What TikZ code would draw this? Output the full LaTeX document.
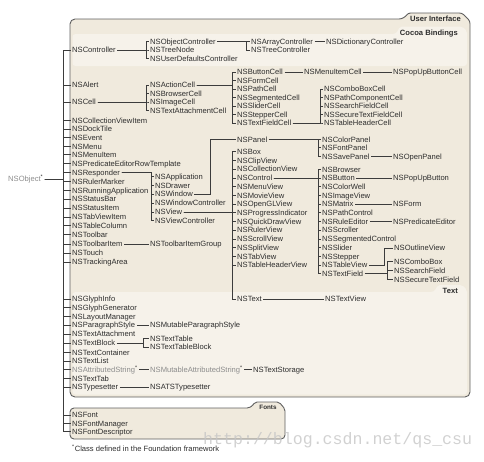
\documentclass[tikz,border=0pt]{standalone}
\usepackage{fontspec}
\setmainfont{Liberation Sans}
\newfontfamily\wmfont{Liberation Mono}
\usetikzlibrary{calc}
\definecolor{bg}{RGB}{240,234,221}
\definecolor{bgl}{RGB}{246,242,234}
\definecolor{frm}{RGB}{95,95,95}
\definecolor{ink}{RGB}{45,45,45}
\definecolor{lnk}{RGB}{60,60,60}
\definecolor{fgray}{RGB}{140,140,140}
\tikzset{
  cls/.style={font=\fontsize{7.6}{9}\selectfont, text=ink, inner xsep=1.5pt, inner ysep=0.5pt,
              anchor=west, text height=5.5pt, text depth=0pt},
  gcls/.style={cls, text=fgray},
  lbl/.style={font=\bfseries\fontsize{7.6}{9}\selectfont, text=ink, inner sep=0pt,
              text height=5.5pt, text depth=0pt},
  conn/.style={draw=lnk, line width=0.7pt},
  frame/.style={draw=frm, line width=0.9pt, fill=bg},
}
\newcommand\nsc[3]{\node[cls] (#1) at ({#2-1.5},#3) {#1};}
\newcommand\grp[3]{\foreach \c in {#3} {\draw[conn] (#1.east) -- (#1.east -| #2) |- (\c.west);}}
\begin{document}
\begin{tikzpicture}[x=1pt,y=-1pt]
\useasboundingbox (0,0) rectangle (484,461);
% ---- frames
\path[frame, rounded corners=5pt] (70,397) -- (70,19) -- (404,19) [rounded corners=2.5pt] -- (408,13) -- (462,13) -- (470,21) [rounded corners=5pt] -- (470,397) -- cycle;
\path[fill=bgl, rounded corners=3pt] (72.5,66) -- (72.5,34) -- (396,34) [rounded corners=2pt] -- (400,26.5) -- (462,26.5) -- (467,31) [rounded corners=3pt] -- (467,66) -- cycle;
\path[fill=bgl, rounded corners=3pt] (72.5,394.5) -- (72.5,292) -- (434,292) [rounded corners=2pt] -- (438,285) -- (462,285) -- (467,290) [rounded corners=3pt] -- (467,394.5) -- cycle;
\path[frame, rounded corners=4pt] (70,439) -- (70,408) -- (251,408) [rounded corners=2pt] -- (255,402) -- (279,402) -- (285,409) [rounded corners=4pt] -- (285,439) -- cycle;
\node[lbl, anchor=east] (UI) at (461,19) {User Interface};
\node[lbl, anchor=east] (CB) at (458,32.7) {Cocoa Bindings};
\node[lbl, anchor=east] (TX) at (458,290.5) {Text};
\node[lbl, font=\bfseries\fontsize{6.3}{7}\selectfont] (FT) at (268,406.5) {Fonts};
% ---- root
\node[gcls] (NSObject) at (6.5,179) {NSObject\textcolor{ink}{\textsuperscript{*}}};
% ---- main column
\nsc{NSController}{72}{50}
\nsc{NSAlert}{72}{85}
\nsc{NSCell}{72}{102}
\nsc{NSCollectionViewItem}{72}{120.7}
\nsc{NSDockTile}{72}{129.2}
\nsc{NSEvent}{72}{137.8}
\nsc{NSMenu}{72}{146.3}
\nsc{NSMenuItem}{72}{154.8}
\nsc{NSPredicateEditorRowTemplate}{72}{163.4}
\nsc{NSResponder}{72}{172.3}
\nsc{NSRulerMarker}{72}{181.3}
\nsc{NSRunningApplication}{72}{190.3}
\nsc{NSStatusBar}{72}{199.2}
\nsc{NSStatusItem}{72}{208.2}
\nsc{NSTabViewItem}{72}{217}
\nsc{NSTableColumn}{72}{225.8}
\nsc{NSToolbar}{72}{234.6}
\nsc{NSToolbarItem}{72}{244}
\nsc{NSTouch}{72}{253}
\nsc{NSTrackingArea}{72}{262}
\nsc{NSGlyphInfo}{72}{299}
\nsc{NSGlyphGenerator}{72}{307.7}
\nsc{NSLayoutManager}{72}{316.5}
\nsc{NSParagraphStyle}{72}{325.2}
\nsc{NSTextAttachment}{72}{334.2}
\nsc{NSTextBlock}{72}{343.2}
\nsc{NSTextContainer}{72}{352.4}
\nsc{NSTextList}{72}{361}
\node[gcls] (NSAttributedString) at (70.5,369.5) {NSAttributedString\textcolor{ink}{\textsuperscript{*}}};
\nsc{NSTextTab}{72}{378.3}
\nsc{NSTypesetter}{72}{387.2}
\nsc{NSFont}{72}{415}
\nsc{NSFontManager}{72}{423.3}
\nsc{NSFontDescriptor}{72}{431.7}
% ---- bindings
\nsc{NSObjectController}{150}{41.7}
\nsc{NSTreeNode}{150}{50}
\nsc{NSUserDefaultsController}{150}{58.8}
\nsc{NSArrayController}{251}{41.7}
\nsc{NSTreeController}{251}{50}
\nsc{NSDictionaryController}{326}{41.7}
% ---- cells
\nsc{NSActionCell}{150}{85}
\nsc{NSBrowserCell}{150}{93.5}
\nsc{NSImageCell}{150}{102}
\nsc{NSTextAttachmentCell}{150}{110.5}
\nsc{NSButtonCell}{237}{72}
\nsc{NSFormCell}{237}{80.5}
\nsc{NSPathCell}{237}{89}
\nsc{NSSegmentedCell}{237}{97.5}
\nsc{NSSliderCell}{237}{106}
\nsc{NSStepperCell}{237}{114.5}
\nsc{NSTextFieldCell}{237}{123}
\nsc{NSMenuItemCell}{304}{72}
\nsc{NSPopUpButtonCell}{393}{72}
\nsc{NSComboBoxCell}{324}{89}
\nsc{NSPathComponentCell}{324}{97.5}
\nsc{NSSearchFieldCell}{324}{106}
\nsc{NSSecureTextFieldCell}{324}{114.5}
\nsc{NSTableHeaderCell}{324}{123}
% ---- responders
\nsc{NSApplication}{155}{176.7}
\nsc{NSDrawer}{155}{185.3}
\nsc{NSWindow}{155}{194}
\nsc{NSWindowController}{155}{203}
\nsc{NSView}{155}{212}
\nsc{NSViewController}{155}{220.7}
\nsc{NSPanel}{237}{139.3}
\nsc{NSColorPanel}{322}{139.3}
\nsc{NSFontPanel}{322}{147.8}
\nsc{NSSavePanel}{322}{156.4}
\nsc{NSOpenPanel}{393}{156.4}
% ---- views
\nsc{NSBox}{237}{151.7}
\nsc{NSClipView}{237}{160.4}
\nsc{NSCollectionView}{237}{169.1}
\nsc{NSControl}{237}{177.9}
\nsc{NSMenuView}{237}{186.6}
\nsc{NSMovieView}{237}{195.3}
\nsc{NSOpenGLView}{237}{204}
\nsc{NSProgressIndicator}{237}{212.7}
\nsc{NSQuickDrawView}{237}{221.5}
\nsc{NSRulerView}{237}{230.2}
\nsc{NSScrollView}{237}{238.9}
\nsc{NSSplitView}{237}{247.6}
\nsc{NSTabView}{237}{256.3}
\nsc{NSTableHeaderView}{237}{265}
\nsc{NSText}{237}{299}
\nsc{NSTextView}{325}{299}
% ---- controls
\nsc{NSBrowser}{322}{169.3}
\nsc{NSButton}{322}{177.9}
\nsc{NSColorWell}{322}{186.6}
\nsc{NSImageView}{322}{195.3}
\nsc{NSMatrix}{322}{204}
\nsc{NSPathControl}{322}{212.7}
\nsc{NSRuleEditor}{322}{221.5}
\nsc{NSScroller}{322}{230.2}
\nsc{NSSegmentedControl}{322}{238.9}
\nsc{NSSlider}{322}{247.6}
\nsc{NSStepper}{322}{256.3}
\nsc{NSTableView}{322}{265}
\nsc{NSTextField}{322}{273.7}
\nsc{NSPopUpButton}{393}{177.9}
\nsc{NSForm}{393}{204}
\nsc{NSPredicateEditor}{393}{221.5}
\nsc{NSOutlineView}{394}{248}
\nsc{NSComboBox}{394}{261.7}
\nsc{NSSearchField}{394}{270.5}
\nsc{NSSecureTextField}{394}{279.3}
% ---- misc
\nsc{NSToolbarItemGroup}{150}{244}
\nsc{NSMutableParagraphStyle}{150}{325.2}
\nsc{NSTextTable}{150}{338.5}
\nsc{NSTextTableBlock}{150}{347}
\node[gcls] (NSMutableAttributedString) at (148.5,369.5) {NSMutableAttributedString\textcolor{ink}{\textsuperscript{*}}};
\nsc{NSTextStorage}{253}{369.5}
\nsc{NSATSTypesetter}{150}{387.2}
% ---- bracket coordinates
\coordinate (bus) at (63.5,0);
\coordinate (bCtl) at (146.7,0);
\coordinate (bObjC) at (246.5,0);
\coordinate (bCell) at (146.7,0);
\coordinate (bAct) at (232.5,0);
\coordinate (bTFC) at (320.5,0);
\coordinate (bResp) at (151.7,0);
\coordinate (eWin) at (210,0);
\coordinate (bPanel) at (318,0);
\coordinate (bView) at (232.5,0);
\coordinate (bCtrl) at (318,0);
\coordinate (eTV) at (384.5,0);
\coordinate (bTF) at (387.5,0);
\coordinate (bTB) at (143,0);
% ---- connectors
\grp{NSObject}{bus}{NSController,NSAlert,NSCell,NSCollectionViewItem,NSDockTile,NSEvent,NSMenu,NSMenuItem,NSPredicateEditorRowTemplate,NSResponder,NSRulerMarker,NSRunningApplication,NSStatusBar,NSStatusItem,NSTabViewItem,NSTableColumn,NSToolbar,NSToolbarItem,NSTouch,NSTrackingArea,NSGlyphInfo,NSGlyphGenerator,NSLayoutManager,NSParagraphStyle,NSTextAttachment,NSTextBlock,NSTextContainer,NSTextList,NSAttributedString,NSTextTab,NSTypesetter,NSFont,NSFontManager,NSFontDescriptor}
\grp{NSController}{bCtl}{NSObjectController,NSTreeNode,NSUserDefaultsController}
\grp{NSObjectController}{bObjC}{NSArrayController,NSTreeController}
\draw[conn] (NSArrayController.east) -- (NSDictionaryController.west);
\grp{NSCell}{bCell}{NSActionCell,NSBrowserCell,NSImageCell,NSTextAttachmentCell}
\grp{NSActionCell}{bAct}{NSButtonCell,NSFormCell,NSPathCell,NSSegmentedCell,NSSliderCell,NSStepperCell,NSTextFieldCell}
\draw[conn] (NSButtonCell.east) -- (NSMenuItemCell.west);
\draw[conn] (NSMenuItemCell.east) -- (NSPopUpButtonCell.west);
\grp{NSTextFieldCell}{bTFC}{NSComboBoxCell,NSPathComponentCell,NSSearchFieldCell,NSSecureTextFieldCell,NSTableHeaderCell}
\grp{NSResponder}{bResp}{NSApplication,NSDrawer,NSWindow,NSWindowController,NSView,NSViewController}
\draw[conn] (NSWindow.east) -- (NSWindow.east -| eWin) |- (NSPanel.west);
\grp{NSPanel}{bPanel}{NSColorPanel,NSFontPanel,NSSavePanel}
\draw[conn] (NSSavePanel.east) -- (NSOpenPanel.west);
\grp{NSView}{bView}{NSBox,NSClipView,NSCollectionView,NSControl,NSMenuView,NSMovieView,NSOpenGLView,NSProgressIndicator,NSQuickDrawView,NSRulerView,NSScrollView,NSSplitView,NSTabView,NSTableHeaderView,NSText}
\draw[conn] (NSText.east) -- (NSTextView.west);
\grp{NSControl}{bCtrl}{NSBrowser,NSButton,NSColorWell,NSImageView,NSMatrix,NSPathControl,NSRuleEditor,NSScroller,NSSegmentedControl,NSSlider,NSStepper,NSTableView,NSTextField}
\draw[conn] (NSButton.east) -- (NSPopUpButton.west);
\draw[conn] (NSMatrix.east) -- (NSForm.west);
\draw[conn] (NSRuleEditor.east) -- (NSPredicateEditor.west);
\draw[conn] (NSTableView.east) -- (NSTableView.east -| eTV) |- (NSOutlineView.west);
\grp{NSTextField}{bTF}{NSComboBox,NSSearchField,NSSecureTextField}
\draw[conn] (NSToolbarItem.east) -- (NSToolbarItemGroup.west);
\draw[conn] (NSParagraphStyle.east) -- (NSMutableParagraphStyle.west);
\grp{NSTextBlock}{bTB}{NSTextTable,NSTextTableBlock}
\draw[conn] (NSAttributedString.east) -- (NSMutableAttributedString.west);
\draw[conn] (NSMutableAttributedString.east) -- (NSTextStorage.west);
\draw[conn] (NSTypesetter.east) -- (NSATSTypesetter.west);
% ---- footnote and watermark
\node[cls] (note) at (70.5,449) {\textsuperscript{*}Class defined in the Foundation framework};
\node[anchor=west, inner sep=0pt, text=gray!45, opacity=0.8, font=\wmfont\fontsize{16.6}{18}\selectfont] (wm) at (203,440) {http://blog.csdn.net/qs\_csu};
\end{tikzpicture}
\end{document}
